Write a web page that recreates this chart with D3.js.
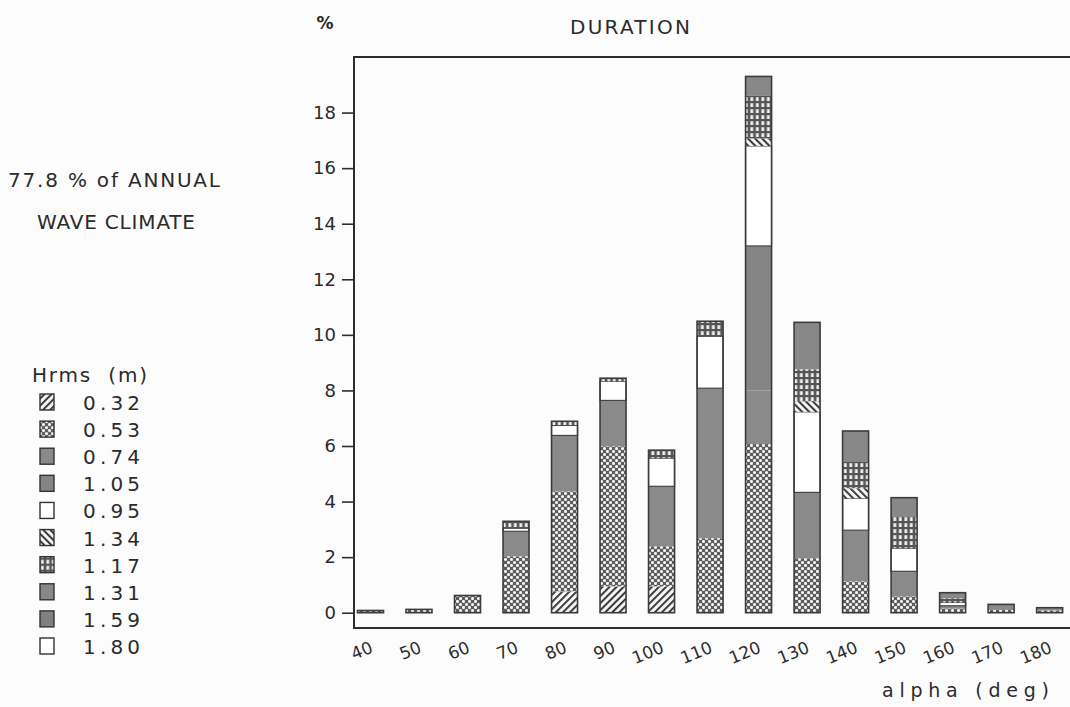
<!DOCTYPE html>
<html><head><meta charset="utf-8">
<script src="https://cdn.jsdelivr.net/npm/d3@7"></script>
<style>
body{margin:0;background:#fcfcfc}
svg{display:block}
text{font-family:"DejaVu Sans",sans-serif;fill:#2b2b2b;white-space:pre}
</style>
</head><body>
<svg id="c" width="1070" height="707"></svg>
<script>
// ---- data ----
const categories = [40,50,60,70,80,90,100,110,120,130,140,150,160,170,180];
const hrmsClasses = ["0.32","0.53","0.74","1.05","0.95","1.34","1.17","1.31","1.59","1.80"];
const h032 = [0,0,0,0,0.77,0.95,0.95,0,0,0,0,0,0,0,0];
const h053 = [0.08,0.12,0.62,2.03,3.60,5.04,1.44,2.68,6.07,1.96,1.13,0.59,0.15,0.10,0.08];
const h074 = [0,0,0,0.90,2.01,1.65,2.16,5.40,1.93,2.37,1.84,0.90,0.10,0.20,0.10];
const h105 = [0,0,0,0,0,0,0,0,5.20,0,0,0,0,0,0];
const h095 = [0,0,0,0.11,0.36,0.69,1.01,1.87,3.60,2.90,1.15,0.83,0.12,0,0];
const h134 = [0,0,0,0,0,0,0,0,0.27,0.38,0.36,0,0,0,0];
const h117 = [0,0,0,0.25,0.15,0.11,0.29,0.54,1.53,1.15,0.97,1.15,0.15,0,0];
const h131 = [0,0,0,0,0,0,0,0,0.70,1.69,1.09,0.67,0.20,0,0];
const h159 = [0,0,0,0,0,0,0,0,0,0,0,0,0,0,0];
const h180 = [0,0,0,0,0,0,0,0,0,0,0,0,0,0,0];
const seriesArrays = [h032,h053,h074,h105,h095,h134,h117,h131,h159,h180];
const yTicks = [0,2,4,6,8,10,12,14,16,18];
const xTickLabels = ["40","50","60","70","80","90","100","110","120","130","140","150","160","170","180"];

const table = categories.map((c,i)=>{
  const row = {alpha:c};
  hrmsClasses.forEach((k,j)=>row[k]=seriesArrays[j][i]);
  return row;
});

const svg = d3.select("#c");
const ink = "#2e2e2e";

// ---- patterns ----
const defs = svg.append("defs");
const pA = defs.append("pattern").attr("id","hatchA").attr("patternUnits","userSpaceOnUse")
  .attr("width",5).attr("height",5).attr("patternTransform","rotate(45)");
pA.append("rect").attr("width",5).attr("height",5).attr("fill","#f4f4f4");
pA.append("rect").attr("width",1.9).attr("height",5).attr("fill","#333");
const pB = defs.append("pattern").attr("id","hatchB").attr("patternUnits","userSpaceOnUse")
  .attr("width",5).attr("height",5).attr("patternTransform","rotate(-45)");
pB.append("rect").attr("width",5).attr("height",5).attr("fill","#f4f4f4");
pB.append("rect").attr("width",1.9).attr("height",5).attr("fill","#333");
const pD = defs.append("pattern").attr("id","dots").attr("patternUnits","userSpaceOnUse")
  .attr("width",6).attr("height",6);
pD.append("rect").attr("width",6).attr("height",6).attr("fill","#5c5c5c");
pD.append("circle").attr("cx",1.5).attr("cy",1.5).attr("r",1.55).attr("fill","#f6f6f6");
pD.append("circle").attr("cx",4.5).attr("cy",4.5).attr("r",1.55).attr("fill","#f6f6f6");
const pG = defs.append("pattern").attr("id","grid").attr("patternUnits","userSpaceOnUse")
  .attr("width",5.5).attr("height",6).attr("x",1);
pG.append("rect").attr("width",5.5).attr("height",6).attr("fill","#555");
pG.append("rect").attr("x",1.4).attr("y",1.2).attr("width",2.8).attr("height",3.8).attr("fill","#f2f2f2");

const fills = {
  "0.32":"url(#hatchA)","0.53":"url(#dots)","0.74":"#8a8a8a","1.05":"#858585",
  "0.95":"#ffffff","1.34":"url(#hatchB)","1.17":"url(#grid)","1.31":"#888888",
  "1.59":"#808080","1.80":"#ffffff"
};
const isWhite = k => k==="0.95"||k==="1.80";

// ---- scales ----
const x = d3.scaleLinear().domain([36.6,184.2]).range([354,1070]);
const y = d3.scaleLinear().domain([-0.55,20]).range([628,57]);
const halfW = 2.68;

// ---- bars ----
const stack = d3.stack().keys(hrmsClasses)(table);
const gBars = svg.append("g");
stack.forEach(layer=>{
  gBars.append("g").selectAll("rect").data(layer.filter(d=>d[1]-d[0]>0)).join("rect")
    .attr("x",d=>x(d.data.alpha-halfW))
    .attr("width",d=>x(d.data.alpha+halfW)-x(d.data.alpha-halfW))
    .attr("y",d=>y(d[1]))
    .attr("height",d=>y(d[0])-y(d[1]))
    .attr("fill",fills[layer.key])
    .attr("stroke",isWhite(layer.key)?"#444":"none")
    .attr("stroke-width",1.2);
});
const totals = table.map(r=>({alpha:r.alpha,total:d3.sum(hrmsClasses,k=>r[k])}));
gBars.append("g").selectAll("rect").data(totals).join("rect")
  .attr("x",d=>x(d.alpha-halfW))
  .attr("width",d=>x(d.alpha+halfW)-x(d.alpha-halfW))
  .attr("y",d=>y(d.total))
  .attr("height",d=>y(0)-y(d.total))
  .attr("fill","none").attr("stroke","#3c3c3c").attr("stroke-width",1.6);

// ---- axes ----
const yAxis = d3.axisLeft(y).tickValues(yTicks).tickSize(12).tickPadding(6).tickFormat(d3.format("d"));
const gy = svg.append("g").attr("transform","translate(354,0)").call(yAxis);
gy.select(".domain").remove();
gy.selectAll(".tick line").attr("stroke",ink).attr("stroke-width",1.6);
gy.selectAll(".tick text").attr("font-size",18).attr("font-family","DejaVu Sans").attr("fill","#2b2b2b");

const xAxis = d3.axisBottom(x).tickValues(categories).tickSize(0).tickFormat((d,i)=>xTickLabels[i]);
const gx = svg.append("g").attr("transform","translate(0,628)").call(xAxis);
gx.select(".domain").remove();
gx.selectAll(".tick text")
  .attr("font-size",17).attr("font-family","DejaVu Sans").attr("fill","#2b2b2b")
  .attr("text-anchor","end").attr("dy",0).attr("y",0)
  .attr("transform","translate(3,24) rotate(-22)");

// frame lines
svg.append("line").attr("x1",354).attr("x2",354).attr("y1",56).attr("y2",629).attr("stroke",ink).attr("stroke-width",2);
svg.append("line").attr("x1",353).attr("x2",1070).attr("y1",628).attr("y2",628).attr("stroke",ink).attr("stroke-width",2);
svg.append("line").attr("x1",353).attr("x2",1070).attr("y1",57).attr("y2",57).attr("stroke",ink).attr("stroke-width",2);

// ---- texts ----
svg.append("text").attr("x",325).attr("y",29).attr("text-anchor","middle").attr("font-size",17).attr("font-weight","bold").text("%");
svg.append("text").attr("x",570).attr("y",34).attr("font-size",20).attr("textLength",120).attr("lengthAdjust","spacing").text("DURATION");
svg.append("text").attr("x",8).attr("y",187).attr("font-size",20).attr("textLength",212).attr("lengthAdjust","spacing").text("77.8 % of ANNUAL");
svg.append("text").attr("x",37).attr("y",229).attr("font-size",20).attr("textLength",158).attr("lengthAdjust","spacing").text("WAVE CLIMATE");
svg.append("text").attr("x",882).attr("y",697).attr("font-size",19).attr("textLength",167).attr("lengthAdjust","spacing").text("alpha (deg)");

// ---- legend ----
svg.append("text").attr("x",32).attr("y",382).attr("font-size",20).attr("textLength",115).attr("lengthAdjust","spacing").text("Hrms  (m)");
const legY = d3.scaleLinear().domain([0,hrmsClasses.length-1]).range([402,646]);
const lg = svg.append("g").selectAll("g").data(hrmsClasses).join("g")
  .attr("transform",(d,i)=>`translate(0,${legY(i)})`);
lg.append("rect").attr("x",40).attr("y",-8).attr("width",14).attr("height",16)
  .attr("fill",d=>fills[d]).attr("stroke","#333").attr("stroke-width",1.4);
lg.append("text").attr("x",83).attr("y",8).attr("font-size",20).attr("textLength",57).attr("lengthAdjust","spacing").text(d=>d);
</script>
</body></html>
